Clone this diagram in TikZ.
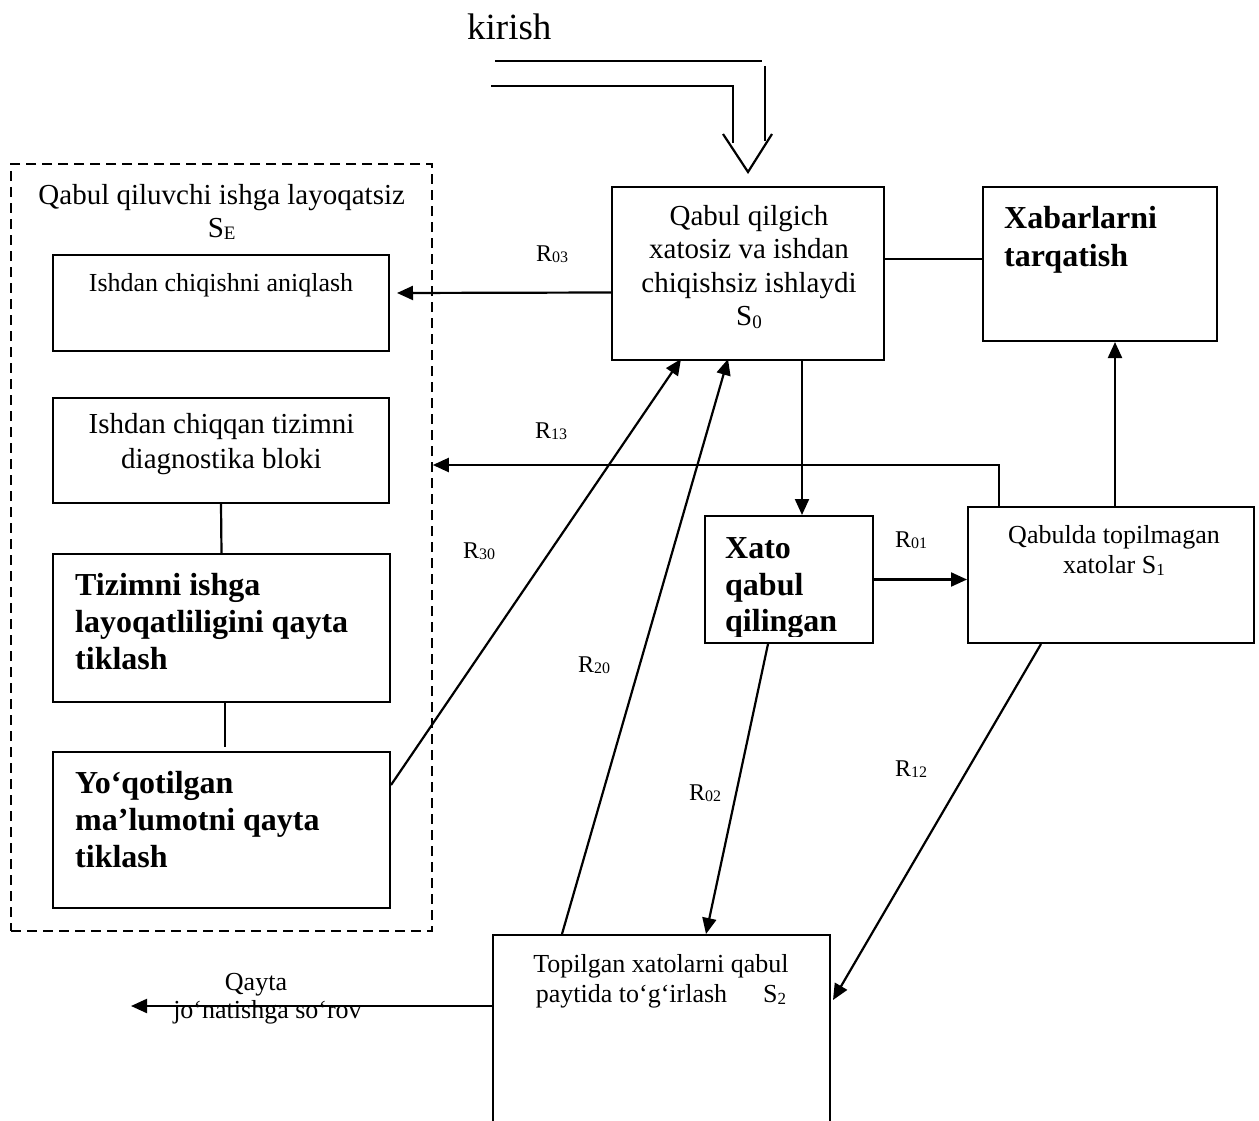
\documentclass[tikz,border=0pt]{standalone}
\usepackage{fontspec}
\setmainfont{Liberation Serif}
\usetikzlibrary{arrows.meta,calc}

% lowered, smaller index (as in R01, S0)
\newcommand\lowidx[2]{\raisebox{-0.08em}{\fontsize{#1}{#1}\selectfont #2}}
\newcommand\rl[1]{R\lowidx{16}{#1}}

\tikzset{
  box/.style={draw, line width=2pt, inner sep=0pt},
  conn/.style={line width=2.2pt},
  arr/.style={line width=2.2pt, -{Triangle[length=16pt,width=14pt]}},
  txt/.style={inner sep=0pt},
  lbl/.style={inner sep=0pt, anchor=base west, font=\fontsize{24}{24}\selectfont},
  plain/.style={font=\fontsize{29}{33.5}\selectfont},
  small/.style={font=\fontsize{26}{30}\selectfont},
  heavy/.style={font=\bfseries\fontsize{32}{37}\selectfont}
}

\begin{document}
\begin{tikzpicture}[x=1pt,y=-1pt]
\useasboundingbox (0,0) rectangle (1259,1121);
\clip (0,0) rectangle (1259,1121);
\fill[white] (0,0) rectangle (1259,1121);

% ---- boxes
\node[box, minimum width=272pt, minimum height=173pt] (s0) at (748,273.5) {};
\node[box, minimum width=234pt, minimum height=154pt] (xab) at (1100,264) {};
\node[box, dashed, dash pattern=on 10pt off 6pt, line width=1.6pt,
      minimum width=421pt, minimum height=767pt] (se) at (221.5,547.5) {};
\node[box, minimum width=336pt, minimum height=96pt] (b1) at (221,303) {};
\node[box, minimum width=336pt, minimum height=105pt] (b2) at (221,450.5) {};
\node[box, minimum width=337pt, minimum height=148pt] (b3) at (221.5,628) {};
\node[box, minimum width=337pt, minimum height=156pt] (b4) at (221.5,830) {};
\node[box, minimum width=168pt, minimum height=127pt] (xato) at (789,579.5) {};
\node[box, minimum width=286pt, minimum height=136pt] (s1) at (1111,575) {};
\node[box, minimum width=337pt, minimum height=205pt] (s2) at (661.5,1037.5) {};

% ---- texts
\node[txt, anchor=base west, font=\fontsize{37}{37}\selectfont] (kirish) at (467,40) {kirish};
\node[txt, plain, anchor=north, align=center] (s0t) at (749,205)
  {Qabul qilgich\\xatosiz va ishdan\\chiqishsiz ishlaydi\\S\lowidx{19}{0}};
\node[txt, anchor=north west, align=left, font=\bfseries\fontsize{32}{38}\selectfont]
  (xabt) at (1004,206.5) {Xabarlarni\\tarqatish};
\node[txt, anchor=north, align=center, font=\fontsize{29}{33}\selectfont] (set) at (221.7,184)
  {Qabul qiluvchi ishga layoqatsiz\\S\lowidx{19}{E}};
\node[txt, anchor=base, font=\fontsize{26}{26}\selectfont] (b1t) at (221,291)
  {Ishdan chiqishni aniqlash};
\node[txt, anchor=north, align=center, font=\fontsize{29}{35}\selectfont] (b2t) at (221.5,413)
  {Ishdan chiqqan tizimni\\diagnostika bloki};
\node[txt, heavy, anchor=north west, align=left] (b3t) at (75,573.5)
  {Tizimni ishga\\layoqatliligini qayta\\tiklash};
\node[txt, heavy, anchor=north west, align=left] (b4t) at (75,771)
  {Yo‘qotilgan\\ma’lumotni qayta\\tiklash};
\begin{scope}
  \clip (xato.north west) rectangle ($(xato.south east)+(0,-8)$);
  \node[txt, anchor=north west, align=left, font=\bfseries\fontsize{32}{36.5}\selectfont]
    (xatot) at (725,537.5) {Xato\\qabul\\qilingan};
\end{scope}
\node[txt, small, anchor=north, align=center] (s1t) at (1114,525)
  {Qabulda topilmagan\\xatolar S\lowidx{17}{1}};
\node[txt, small, anchor=north, align=center] (s2t) at (661,954.5)
  {Topilgan xatolarni qabul\\paytida to‘g‘irlash\hspace{36pt}S\lowidx{17}{2}};
\node[txt, small, anchor=base] (qt1) at (256,990) {Qayta};
\node[txt, small, anchor=base] (qt2) at (267.5,1018) {jo‘natishga so‘rov};

% ---- transition labels
\node[lbl] (r03) at (536,261) {\rl{03}};
\node[lbl] (r13) at (535,438) {\rl{13}};
\node[lbl] (r30) at (463,558) {\rl{30}};
\node[lbl] (r20) at (578,672) {\rl{20}};
\node[lbl] (r01) at (895,547) {\rl{01}};
\node[lbl] (r02) at (689,800) {\rl{02}};
\node[lbl] (r12) at (895,776) {\rl{12}};

% ---- input: hollow double-line arrow into S0
\coordinate (intip) at ($(s0.north)+(0,-14)$);
\draw[conn] ($(intip)+(-253,-111)$) -- ($(intip)+(14,-111)$);
\draw[conn] ($(intip)+(-257,-86)$) -- ($(intip)+(-15,-86)$) -- ($(intip)+(-15,-29)$);
\draw[conn] ($(intip)+(17,-106)$) -- ($(intip)+(17,-31)$);
\draw[conn] ($(intip)+(-25,-38)$) -- (intip) -- ($(intip)+(24,-38)$);

% ---- connectors
\draw[arr] ($(s0.west)+(0,19)$) -- ($(b1.east)+(7,-10)$);
\draw[conn] ($(s0.east)+(0,-14.5)$) -- ($(xab.west)+(0,-5)$);
\draw[arr] ($(s1.north west)+(32,0)$) |- ($(se.east)+(0,-82.5)$);
\draw[arr] ($(s1.north)+(4,0)$) -- ($(xab.south)+(15,0)$);
\draw[arr] ($(s0.south)+(54,0)$) -- ($(xato.north)+(13,0)$);
\draw[arr] (xato.east) -- (xato.east -| s1.west);
\draw[arr] ($(b4.east)+(0,-45)$) -- ($(s0.south)+(-67,-2)$);
\draw[arr] ($(s2.north west)+(70,0)$) -- ($(s0.south)+(-20,-2)$);
\draw[arr] ($(xato.south)+(-21,0)$) -- ($(s2.north west)+(214,0)$);
\draw[arr] ($(s1.south west)+(74,0)$) -- ($(s2.east)+(2,-37.5)$);
\coordinate (req) at ($(s2.west)+(-361,-31.5)$);
\draw[arr] ($(s2.west)+(0,-31.5)$) -- (req);
\draw[conn] (b2.south) -- (b3.north);
\draw[conn] ($(b3.south)+(3.5,0)$) -- ($(b4.north)+(3.5,-4)$);
\end{tikzpicture}
\end{document}
